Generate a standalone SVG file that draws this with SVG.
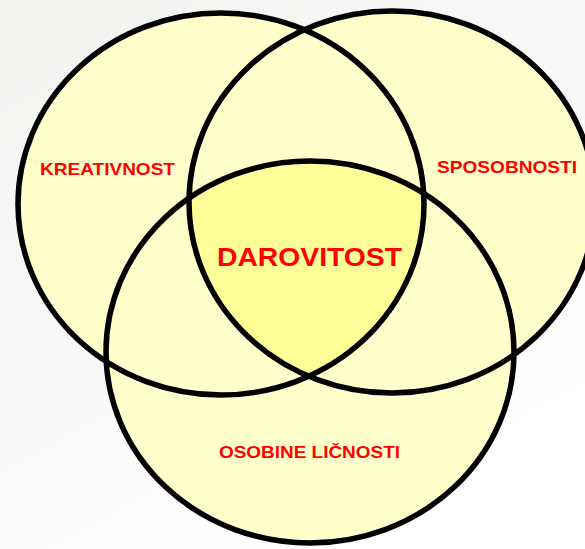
<svg xmlns="http://www.w3.org/2000/svg" width="585" height="549" viewBox="0 0 585 549">
  <style>
    .fill { fill: #ffffcc; stroke: none; }
    .ring { fill: none; stroke: #000000; stroke-width: 5.5; }
    .lbl { font-family: "Liberation Sans", Arial, sans-serif; font-weight: bold; fill: #ff0000; }
  </style>
  <defs>
    <linearGradient id="bg" x1="0" y1="0" x2="0.6" y2="1">
      <stop offset="0" stop-color="#f1f3ef"/>
      <stop offset="1" stop-color="#ffffff"/>
    </linearGradient>
    <clipPath id="clipL">
      <ellipse cx="221" cy="204" rx="203" ry="191"/>
    </clipPath>
    <clipPath id="clipR">
      <ellipse cx="392" cy="202" rx="203" ry="191"/>
    </clipPath>
  </defs>

  <rect x="0" y="0" width="585" height="549" fill="url(#bg)"/>

  <g id="fills">
    <ellipse class="fill" cx="221" cy="204" rx="203" ry="191"/>
    <ellipse class="fill" cx="392" cy="202" rx="203" ry="191"/>
    <ellipse class="fill" cx="310" cy="352" rx="204" ry="191"/>
    <g clip-path="url(#clipL)">
      <g clip-path="url(#clipR)">
        <ellipse cx="310" cy="352" rx="204" ry="191" fill="#ffff99"/>
      </g>
    </g>
  </g>

  <g id="node-kreativnost">
    <ellipse class="ring" cx="221" cy="204" rx="203" ry="191"/>
    <text class="lbl" x="40" y="175" font-size="16.5" textLength="135" lengthAdjust="spacingAndGlyphs">KREATIVNOST</text>
  </g>

  <g id="node-sposobnosti">
    <ellipse class="ring" cx="392" cy="202" rx="203" ry="191"/>
    <text class="lbl" x="437" y="173" font-size="16.5" textLength="140" lengthAdjust="spacingAndGlyphs">SPOSOBNOSTI</text>
  </g>

  <g id="node-osobine">
    <ellipse class="ring" cx="310" cy="352" rx="204" ry="191"/>
    <text class="lbl" x="219" y="458" font-size="16.5" textLength="181" lengthAdjust="spacingAndGlyphs">OSOBINE LIČNOSTI</text>
  </g>

  <g id="node-darovitost">
    <text class="lbl" x="217" y="266" font-size="25" textLength="185" lengthAdjust="spacingAndGlyphs">DAROVITOST</text>
  </g>

  <g id="connectors"></g>
</svg>
